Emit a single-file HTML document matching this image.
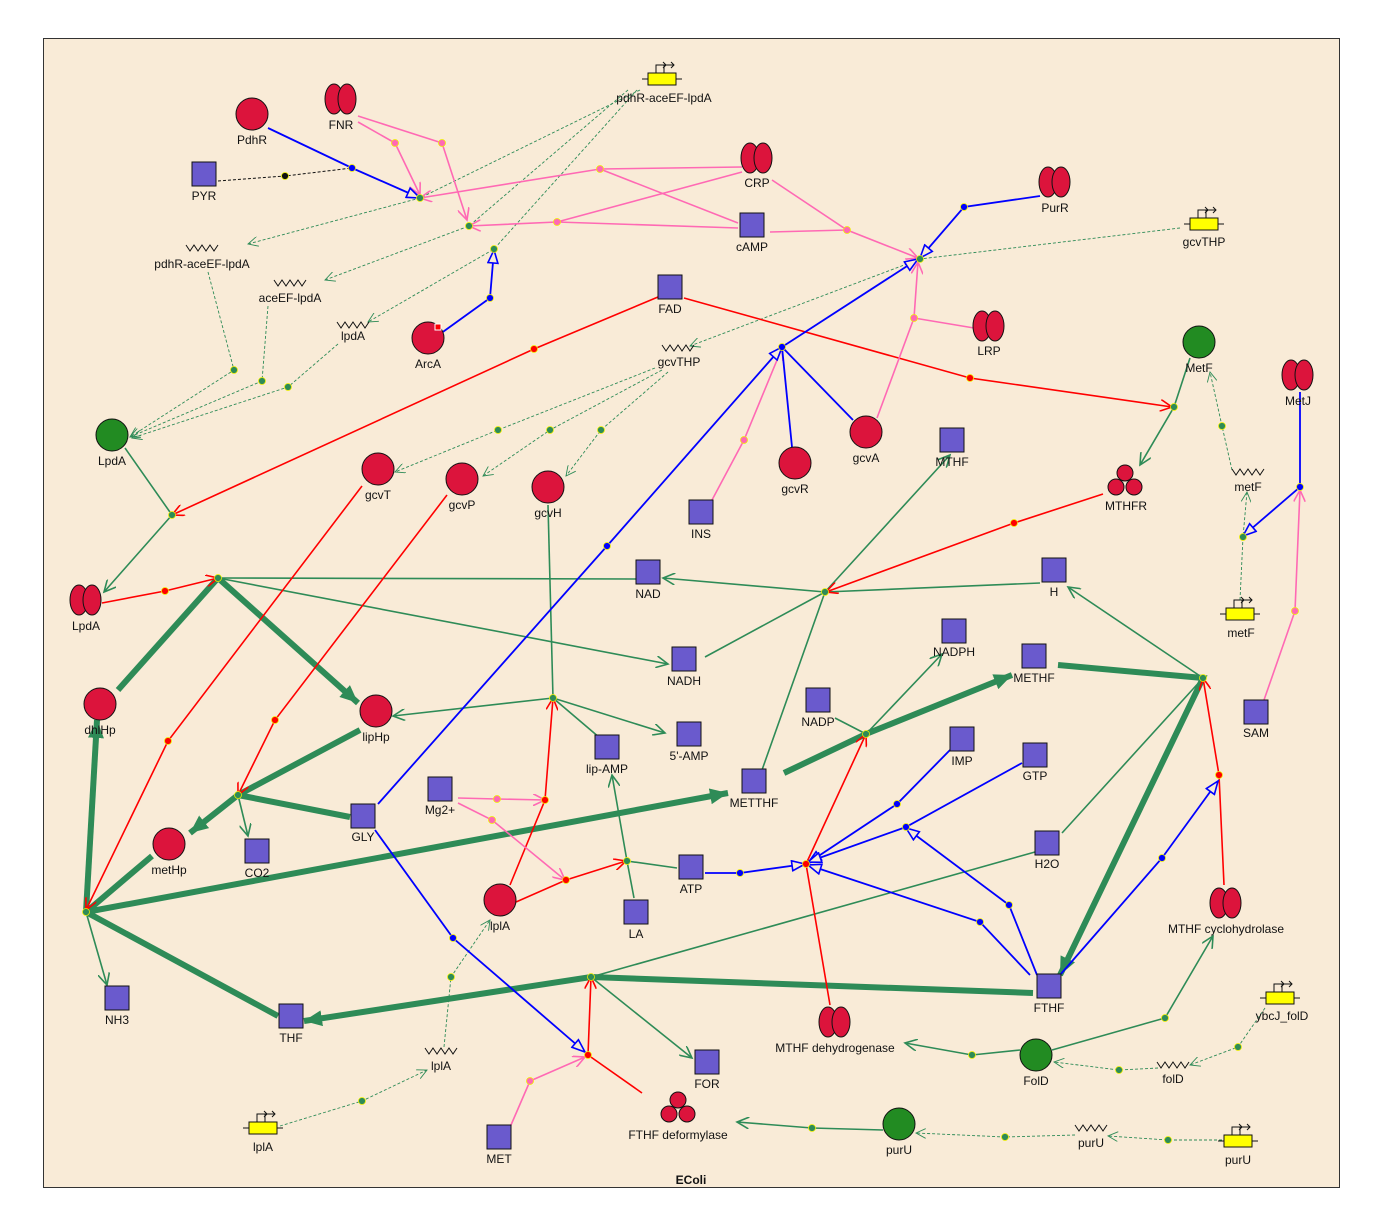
<!DOCTYPE html>
<html><head><meta charset="utf-8"><style>
html,body{margin:0;padding:0;background:#fff}
svg{display:block}
text{font-family:"Liberation Sans",Arial,sans-serif;font-size:12px;fill:#111;text-anchor:middle}
.sq{fill:#6a5acd;stroke:#111;stroke-width:1}
.rc{fill:#dc143c;stroke:#111;stroke-width:1}
.gc{fill:#228b22;stroke:#111;stroke-width:1}
.g{stroke:#2e8b57;stroke-width:1.6;fill:none}
.G{stroke:#2e8b57;stroke-width:6;fill:none}
.r{stroke:#ff0000;stroke-width:1.6;fill:none}
.b{stroke:#0000ff;stroke-width:1.8;fill:none}
.p{stroke:#ff69b4;stroke-width:1.6;fill:none}
.d{stroke:#2e8b57;stroke-width:0.9;fill:none;stroke-dasharray:3,2}
.k{stroke:#111;stroke-width:1;fill:none;stroke-dasharray:3,2}
.z{stroke:#111;stroke-width:1;fill:none}
</style></head><body>
<svg width="1382" height="1224" viewBox="0 0 1382 1224" xmlns="http://www.w3.org/2000/svg">
<defs>
<marker id="ag" markerUnits="userSpaceOnUse" markerWidth="14" markerHeight="12" refX="12" refY="6" orient="auto"><path d="M0,0 L12,6 L0,12" fill="none" stroke="#2e8b57" stroke-width="1.6"/></marker>
<marker id="ar" markerUnits="userSpaceOnUse" markerWidth="14" markerHeight="12" refX="12" refY="6" orient="auto"><path d="M0,0 L12,6 L0,12" fill="none" stroke="#ff0000" stroke-width="1.6"/></marker>
<marker id="ap" markerUnits="userSpaceOnUse" markerWidth="14" markerHeight="12" refX="12" refY="6" orient="auto"><path d="M0,0 L12,6 L0,12" fill="none" stroke="#ff69b4" stroke-width="1.6"/></marker>
<marker id="ab" markerUnits="userSpaceOnUse" markerWidth="16" markerHeight="12" refX="14" refY="6" orient="auto"><path d="M1,1 L14,6 L1,11 Z" fill="#f9ebd7" stroke="#0000ff" stroke-width="1.6"/></marker>
<marker id="ad" markerUnits="userSpaceOnUse" markerWidth="12" markerHeight="10" refX="10" refY="5" orient="auto"><path d="M0,0 L10,5 L0,10" fill="none" stroke="#2e8b57" stroke-width="0.9"/></marker>
<marker id="aG" markerUnits="userSpaceOnUse" markerWidth="20" markerHeight="16" refX="18" refY="8" orient="auto"><path d="M0,0 L18,8 L0,16 Z" fill="#2e8b57"/></marker>
</defs>
<rect x="43.5" y="38.5" width="1296" height="1149" fill="#f9ebd7" stroke="#333" stroke-width="1"/>
<text x="691" y="1184" style="font-weight:bold">EColi</text>

<!-- dashed expression edges -->
<g class="d" marker-end="url(#ad)">
<polyline points="640,90 420,198 248,244"/>
<polyline points="628,90 469,226 325,280"/>
<polyline points="637,90 494,249 368,322"/>
<polyline points="208,272 234,370 130,437"/>
<polyline points="268,306 262,381 130,437"/>
<polyline points="338,344 288,387 132,438"/>
<polyline points="1180,228 920,259 690,346"/>
<polyline points="655,368 498,430 395,472"/>
<polyline points="662,370 550,430 483,476"/>
<polyline points="668,372 601,430 566,476"/>
<polyline points="1240,600 1243,537 1247,492"/>
<polyline points="1232,470 1222,426 1210,372"/>
<polyline points="280,1126 362,1101 427,1070"/>
<polyline points="444,1047 451,977 490,920"/>
<polyline points="1265,1008 1238,1047 1190,1065"/>
<polyline points="1158,1068 1119,1070 1054,1062"/>
<polyline points="1222,1140 1168,1140 1108,1136"/>
<polyline points="1075,1135 1005,1137 916,1133"/>
</g>
<polyline class="k" points="218,181 285,176 352,168"/>

<!-- thick green -->
<g class="G">
<polyline points="118,690 218,578"/>
<polyline points="218,578 358,703" marker-end="url(#aG)"/>
<polyline points="360,730 238,795 190,833" marker-end="url(#aG)"/>
<polyline points="350,817 238,795"/>
<polyline points="86,912 97,720" marker-end="url(#aG)"/>
<polyline points="152,856 86,912"/>
<polyline points="86,912 728,793" marker-end="url(#aG)"/>
<polyline points="86,912 278,1016"/>
<polyline points="784,773 866,734 1012,675" marker-end="url(#aG)"/>
<polyline points="1058,665 1203,678 1060,975" marker-end="url(#aG)"/>
<polyline points="1033,993 591,977 304,1021" marker-end="url(#aG)"/>
</g>

<!-- thin green -->
<g class="g">
<polyline points="125,448 172,515 104,592" marker-end="url(#ag)"/>
<polyline points="218,578 636,579"/>
<polyline points="218,578 668,664" marker-end="url(#ag)"/>
<polyline points="825,592 663,578" marker-end="url(#ag)"/>
<polyline points="1040,583 825,592"/>
<polyline points="705,657 825,592"/>
<polyline points="762,770 825,592 950,455" marker-end="url(#ag)"/>
<polyline points="548,505 553,698"/>
<polyline points="553,698 393,716" marker-end="url(#ag)"/>
<polyline points="553,698 665,733" marker-end="url(#ag)"/>
<polyline points="553,698 600,738"/>
<polyline points="634,898 627,861 612,775" marker-end="url(#ag)"/>
<polyline points="677,868 627,861"/>
<polyline points="835,718 866,734 942,654" marker-end="url(#ag)"/>
<polyline points="1203,678 1068,587" marker-end="url(#ag)"/>
<polyline points="1062,833 1203,678"/>
<polyline points="238,795 248,836" marker-end="url(#ag)"/>
<polyline points="86,912 107,985" marker-end="url(#ag)"/>
<polyline points="591,977 692,1058" marker-end="url(#ag)"/>
<polyline points="1035,852 591,977"/>
<polyline points="1190,358 1174,407 1140,465" marker-end="url(#ag)"/>
<polyline points="1020,1050 972,1055 905,1043" marker-end="url(#ag)"/>
<polyline points="1052,1050 1165,1018 1213,936" marker-end="url(#ag)"/>
<polyline points="883,1130 812,1128 737,1122" marker-end="url(#ag)"/>
</g>

<!-- red -->
<g class="r" marker-end="url(#ar)">
<polyline points="658,297 534,349 172,515"/>
<polyline points="684,298 970,378 1172,407"/>
<polyline points="102,603 165,591 218,578"/>
<polyline points="1103,494 1014,523 826,592"/>
<polyline points="362,486 168,741 86,910"/>
<polyline points="447,495 275,720 238,795"/>
<polyline points="510,885 545,800 553,698"/>
<polyline points="516,902 566,880 626,861"/>
<polyline points="830,1005 806,864 866,734"/>
<polyline points="1224,885 1219,775 1203,678"/>
<polyline points="642,1093 588,1055 591,977"/>
</g>

<!-- pink -->
<g class="p">
<polyline points="358,116 442,143 467,220" marker-end="url(#ap)"/>
<polyline points="358,122 395,143 420,195" marker-end="url(#ap)"/>
<polyline points="742,167 600,169 420,198" marker-end="url(#ap)"/>
<polyline points="738,223 600,169"/>
<polyline points="742,172 557,222"/>
<polyline points="738,228 557,222 469,226" marker-end="url(#ap)"/>
<polyline points="772,180 847,230 918,258" marker-end="url(#ap)"/>
<polyline points="770,232 847,230"/>
<polyline points="974,328 914,318 918,262" marker-end="url(#ap)"/>
<polyline points="877,418 914,318"/>
<polyline points="712,500 744,440 782,348" marker-end="url(#ap)"/>
<polyline points="458,798 497,799 545,800" marker-end="url(#ap)"/>
<polyline points="458,803 492,820 565,880" marker-end="url(#ap)"/>
<polyline points="511,1125 530,1081 585,1057" marker-end="url(#ap)"/>
<polyline points="1264,700 1295,611 1300,490" marker-end="url(#ap)"/>
</g>

<!-- blue -->
<g class="b">
<polyline points="268,128 352,168 420,198" marker-end="url(#ab)"/>
<polyline points="440,334 490,298 494,250" marker-end="url(#ab)"/>
<polyline points="1040,196 964,207 920,258" marker-end="url(#ab)"/>
<polyline points="378,804 607,546 782,347" marker-end="url(#ab)"/>
<polyline points="792,447 782,347"/>
<polyline points="853,420 782,347"/>
<polyline points="782,347 918,259" marker-end="url(#ab)"/>
<polyline points="375,830 453,938 585,1052" marker-end="url(#ab)"/>
<polyline points="705,873 740,873 805,864" marker-end="url(#ab)"/>
<polyline points="950,750 897,804 808,863" marker-end="url(#ab)"/>
<polyline points="1022,763 906,827 808,862" marker-end="url(#ab)"/>
<polyline points="1030,975 980,922 808,865" marker-end="url(#ab)"/>
<polyline points="1037,975 1009,905 906,828" marker-end="url(#ab)"/>
<polyline points="1060,975 1162,858 1218,781" marker-end="url(#ab)"/>
<polyline points="1300,392 1300,487 1243,536" marker-end="url(#ab)"/>
</g>

<!-- reaction dots -->
<g stroke="#ee0" stroke-width="0.8">
<g fill="#2e8b57">
<circle cx="420" cy="198" r="3.5"/><circle cx="469" cy="226" r="3.5"/><circle cx="494" cy="249" r="3.5"/>
<circle cx="920" cy="259" r="3.5"/><circle cx="234" cy="370" r="3.5"/><circle cx="262" cy="381" r="3.5"/><circle cx="288" cy="387" r="3.5"/>
<circle cx="498" cy="430" r="3.5"/><circle cx="550" cy="430" r="3.5"/><circle cx="601" cy="430" r="3.5"/>
<circle cx="218" cy="578" r="3.5"/><circle cx="825" cy="592" r="3.5"/><circle cx="553" cy="698" r="3.5"/>
<circle cx="866" cy="734" r="3.5"/><circle cx="1203" cy="678" r="3.5"/><circle cx="238" cy="795" r="3.5"/>
<circle cx="627" cy="861" r="3.5"/><circle cx="86" cy="912" r="3.5"/><circle cx="591" cy="977" r="3.5"/>
<circle cx="172" cy="515" r="3.5"/><circle cx="1174" cy="407" r="3.5"/><circle cx="1222" cy="426" r="3.5"/><circle cx="1243" cy="537" r="3.5"/>
<circle cx="362" cy="1101" r="3.5"/><circle cx="451" cy="977" r="3.5"/><circle cx="1238" cy="1047" r="3.5"/><circle cx="1119" cy="1070" r="3.5"/>
<circle cx="1168" cy="1140" r="3.5"/><circle cx="1005" cy="1137" r="3.5"/><circle cx="972" cy="1055" r="3.5"/><circle cx="1165" cy="1018" r="3.5"/><circle cx="812" cy="1128" r="3.5"/>
</g>
<g fill="#ff0000"><circle cx="534" cy="349" r="3.5"/><circle cx="970" cy="378" r="3.5"/><circle cx="165" cy="591" r="3.5"/><circle cx="1014" cy="523" r="3.5"/><circle cx="168" cy="741" r="3.5"/><circle cx="275" cy="720" r="3.5"/><circle cx="545" cy="800" r="3.5"/><circle cx="566" cy="880" r="3.5"/><circle cx="806" cy="864" r="3.5"/><circle cx="1219" cy="775" r="3.5"/><circle cx="588" cy="1055" r="3.5"/></g>
<g fill="#ff69b4"><circle cx="442" cy="143" r="3.5"/><circle cx="395" cy="143" r="3.5"/><circle cx="600" cy="169" r="3.5"/><circle cx="557" cy="222" r="3.5"/><circle cx="847" cy="230" r="3.5"/><circle cx="914" cy="318" r="3.5"/><circle cx="744" cy="440" r="3.5"/><circle cx="497" cy="799" r="3.5"/><circle cx="492" cy="820" r="3.5"/><circle cx="530" cy="1081" r="3.5"/><circle cx="1295" cy="611" r="3.5"/></g>
<g fill="#0000ff"><circle cx="352" cy="168" r="3.5"/><circle cx="490" cy="298" r="3.5"/><circle cx="964" cy="207" r="3.5"/><circle cx="607" cy="546" r="3.5"/><circle cx="782" cy="347" r="3.5"/><circle cx="453" cy="938" r="3.5"/><circle cx="740" cy="873" r="3.5"/><circle cx="897" cy="804" r="3.5"/><circle cx="906" cy="827" r="3.5"/><circle cx="980" cy="922" r="3.5"/><circle cx="1009" cy="905" r="3.5"/><circle cx="1162" cy="858" r="3.5"/><circle cx="1300" cy="487" r="3.5"/></g>
<g fill="#111"><circle cx="285" cy="176" r="3.5"/></g>
</g>

<!-- squares -->
<g class="sq">
<rect x="192" y="162" width="24" height="24"/><rect x="740" y="213" width="24" height="24"/><rect x="658" y="275" width="24" height="24"/>
<rect x="689" y="500" width="24" height="24"/><rect x="940" y="428" width="24" height="24"/><rect x="636" y="560" width="24" height="24"/>
<rect x="1042" y="558" width="24" height="24"/><rect x="942" y="619" width="24" height="24"/><rect x="1022" y="644" width="24" height="24"/>
<rect x="672" y="647" width="24" height="24"/><rect x="806" y="688" width="24" height="24"/><rect x="677" y="722" width="24" height="24"/>
<rect x="595" y="735" width="24" height="24"/><rect x="950" y="727" width="24" height="24"/><rect x="1023" y="743" width="24" height="24"/>
<rect x="742" y="769" width="24" height="24"/><rect x="428" y="777" width="24" height="24"/><rect x="351" y="804" width="24" height="24"/>
<rect x="245" y="839" width="24" height="24"/><rect x="679" y="855" width="24" height="24"/><rect x="1035" y="831" width="24" height="24"/>
<rect x="624" y="900" width="24" height="24"/><rect x="1037" y="974" width="24" height="24"/><rect x="105" y="986" width="24" height="24"/>
<rect x="279" y="1004" width="24" height="24"/><rect x="695" y="1050" width="24" height="24"/><rect x="487" y="1125" width="24" height="24"/>
<rect x="1244" y="700" width="24" height="24"/>
</g>
<!-- red circles -->
<g class="rc">
<circle cx="252" cy="114" r="16"/><circle cx="428" cy="338" r="16"/><circle cx="378" cy="469" r="16"/><circle cx="462" cy="479" r="16"/>
<circle cx="548" cy="487" r="16"/><circle cx="795" cy="463" r="16"/><circle cx="866" cy="432" r="16"/><circle cx="100" cy="704" r="16"/>
<circle cx="376" cy="711" r="16"/><circle cx="169" cy="844" r="16"/><circle cx="500" cy="900" r="16"/>
</g>
<rect x="435" y="324" width="6" height="6" fill="#ff0000" stroke="#fff" stroke-width="1"/>
<g class="gc"><circle cx="112" cy="435" r="16"/><circle cx="1199" cy="342" r="16"/><circle cx="1036" cy="1055" r="16"/><circle cx="899" cy="1124" r="16"/></g>
<!-- dimers -->
<g class="rc">
<ellipse cx="334" cy="99" rx="9" ry="15"/><ellipse cx="347" cy="99" rx="9" ry="15"/>
<ellipse cx="750" cy="158" rx="9" ry="15"/><ellipse cx="763" cy="158" rx="9" ry="15"/>
<ellipse cx="1048" cy="182" rx="9" ry="15"/><ellipse cx="1061" cy="182" rx="9" ry="15"/>
<ellipse cx="982" cy="326" rx="9" ry="15"/><ellipse cx="995" cy="326" rx="9" ry="15"/>
<ellipse cx="1291" cy="375" rx="9" ry="15"/><ellipse cx="1304" cy="375" rx="9" ry="15"/>
<ellipse cx="79" cy="600" rx="9" ry="15"/><ellipse cx="92" cy="600" rx="9" ry="15"/>
<ellipse cx="1219" cy="903" rx="9" ry="15"/><ellipse cx="1232" cy="903" rx="9" ry="15"/>
<ellipse cx="828" cy="1022" rx="9" ry="15"/><ellipse cx="841" cy="1022" rx="9" ry="15"/>
<!-- trimers -->
<circle cx="1125" cy="473" r="8"/><circle cx="1116" cy="487" r="8"/><circle cx="1134" cy="487" r="8"/>
<circle cx="678" cy="1100" r="8"/><circle cx="669" cy="1114" r="8"/><circle cx="687" cy="1114" r="8"/>
</g>
<!-- genes -->
<g id="genes" stroke="#111" stroke-width="1" fill="none">
<g transform="translate(662,79)"><line x1="-20" y1="0" x2="20" y2="0"/><rect x="-14" y="-6" width="28" height="12" fill="#ffff00"/><path d="M-6,-6 V-14 H4 M1,-17 L4,-14 L1,-11 M2,-6 V-14 H12 M9,-17 L12,-14 L9,-11"/></g>
<g transform="translate(1204,224)"><line x1="-20" y1="0" x2="20" y2="0"/><rect x="-14" y="-6" width="28" height="12" fill="#ffff00"/><path d="M-6,-6 V-14 H4 M1,-17 L4,-14 L1,-11 M2,-6 V-14 H12 M9,-17 L12,-14 L9,-11"/></g>
<g transform="translate(1240,614)"><line x1="-20" y1="0" x2="20" y2="0"/><rect x="-14" y="-6" width="28" height="12" fill="#ffff00"/><path d="M-6,-6 V-14 H4 M1,-17 L4,-14 L1,-11 M2,-6 V-14 H12 M9,-17 L12,-14 L9,-11"/></g>
<g transform="translate(1280,998)"><line x1="-20" y1="0" x2="20" y2="0"/><rect x="-14" y="-6" width="28" height="12" fill="#ffff00"/><path d="M-6,-6 V-14 H4 M1,-17 L4,-14 L1,-11 M2,-6 V-14 H12 M9,-17 L12,-14 L9,-11"/></g>
<g transform="translate(263,1128)"><line x1="-20" y1="0" x2="20" y2="0"/><rect x="-14" y="-6" width="28" height="12" fill="#ffff00"/><path d="M-6,-6 V-14 H4 M1,-17 L4,-14 L1,-11 M2,-6 V-14 H12 M9,-17 L12,-14 L9,-11"/></g>
<g transform="translate(1238,1141)"><line x1="-20" y1="0" x2="20" y2="0"/><rect x="-14" y="-6" width="28" height="12" fill="#ffff00"/><path d="M-6,-6 V-14 H4 M1,-17 L4,-14 L1,-11 M2,-6 V-14 H12 M9,-17 L12,-14 L9,-11"/></g>
</g>
<!-- mRNA zigzags -->
<g class="z">
<polyline transform="translate(202,249)" points="-16,-4 -12,2 -8,-4 -4,2 0,-4 4,2 8,-4 12,2 16,-4"/>
<polyline transform="translate(290,284)" points="-16,-4 -12,2 -8,-4 -4,2 0,-4 4,2 8,-4 12,2 16,-4"/>
<polyline transform="translate(353,326)" points="-16,-4 -12,2 -8,-4 -4,2 0,-4 4,2 8,-4 12,2 16,-4"/>
<polyline transform="translate(678,349)" points="-16,-4 -12,2 -8,-4 -4,2 0,-4 4,2 8,-4 12,2 16,-4"/>
<polyline transform="translate(1248,473)" points="-16,-4 -12,2 -8,-4 -4,2 0,-4 4,2 8,-4 12,2 16,-4"/>
<polyline transform="translate(441,1052)" points="-16,-4 -12,2 -8,-4 -4,2 0,-4 4,2 8,-4 12,2 16,-4"/>
<polyline transform="translate(1173,1066)" points="-16,-4 -12,2 -8,-4 -4,2 0,-4 4,2 8,-4 12,2 16,-4"/>
<polyline transform="translate(1091,1129)" points="-16,-4 -12,2 -8,-4 -4,2 0,-4 4,2 8,-4 12,2 16,-4"/>
</g>

<!-- labels -->
<text x="204" y="200">PYR</text><text x="752" y="251">cAMP</text><text x="670" y="313">FAD</text>
<text x="701" y="538">INS</text><text x="952" y="466">MTHF</text><text x="648" y="598">NAD</text>
<text x="1054" y="596">H</text><text x="954" y="656">NADPH</text><text x="1034" y="682">METHF</text>
<text x="684" y="685">NADH</text><text x="818" y="726">NADP</text><text x="689" y="760">5'-AMP</text>
<text x="607" y="773">lip-AMP</text><text x="962" y="765">IMP</text><text x="1035" y="780">GTP</text>
<text x="754" y="807">METTHF</text><text x="440" y="814">Mg2+</text><text x="363" y="841">GLY</text>
<text x="257" y="877">CO2</text><text x="691" y="893">ATP</text><text x="1047" y="868">H2O</text>
<text x="636" y="938">LA</text><text x="1049" y="1012">FTHF</text><text x="117" y="1024">NH3</text>
<text x="291" y="1042">THF</text><text x="707" y="1088">FOR</text><text x="499" y="1163">MET</text>
<text x="1256" y="737">SAM</text>
<text x="252" y="144">PdhR</text><text x="428" y="368">ArcA</text><text x="378" y="499">gcvT</text>
<text x="462" y="509">gcvP</text><text x="548" y="517">gcvH</text><text x="795" y="493">gcvR</text>
<text x="866" y="462">gcvA</text><text x="100" y="734">dhlHp</text><text x="376" y="741">lipHp</text>
<text x="169" y="874">metHp</text><text x="500" y="930">lplA</text>
<text x="112" y="465">LpdA</text><text x="1199" y="372">MetF</text><text x="1036" y="1085">FolD</text><text x="899" y="1154">purU</text>
<text x="341" y="129">FNR</text><text x="757" y="187">CRP</text><text x="1055" y="212">PurR</text>
<text x="989" y="355">LRP</text><text x="1298" y="405">MetJ</text><text x="86" y="630">LpdA</text>
<text x="1226" y="933">MTHF cyclohydrolase</text><text x="835" y="1052">MTHF dehydrogenase</text>
<text x="1126" y="510">MTHFR</text><text x="678" y="1139">FTHF deformylase</text>
<text x="664" y="102">pdhR-aceEF-lpdA</text><text x="1204" y="246">gcvTHP</text><text x="1241" y="637">metF</text>
<text x="1282" y="1020">ybcJ_folD</text><text x="263" y="1151">lplA</text><text x="1238" y="1164">purU</text>
<text x="202" y="268">pdhR-aceEF-lpdA</text><text x="290" y="302">aceEF-lpdA</text><text x="353" y="340">lpdA</text>
<text x="679" y="366">gcvTHP</text><text x="1248" y="491">metF</text><text x="441" y="1070">lplA</text>
<text x="1173" y="1083">folD</text><text x="1091" y="1147">purU</text>
</svg>
</body></html>
